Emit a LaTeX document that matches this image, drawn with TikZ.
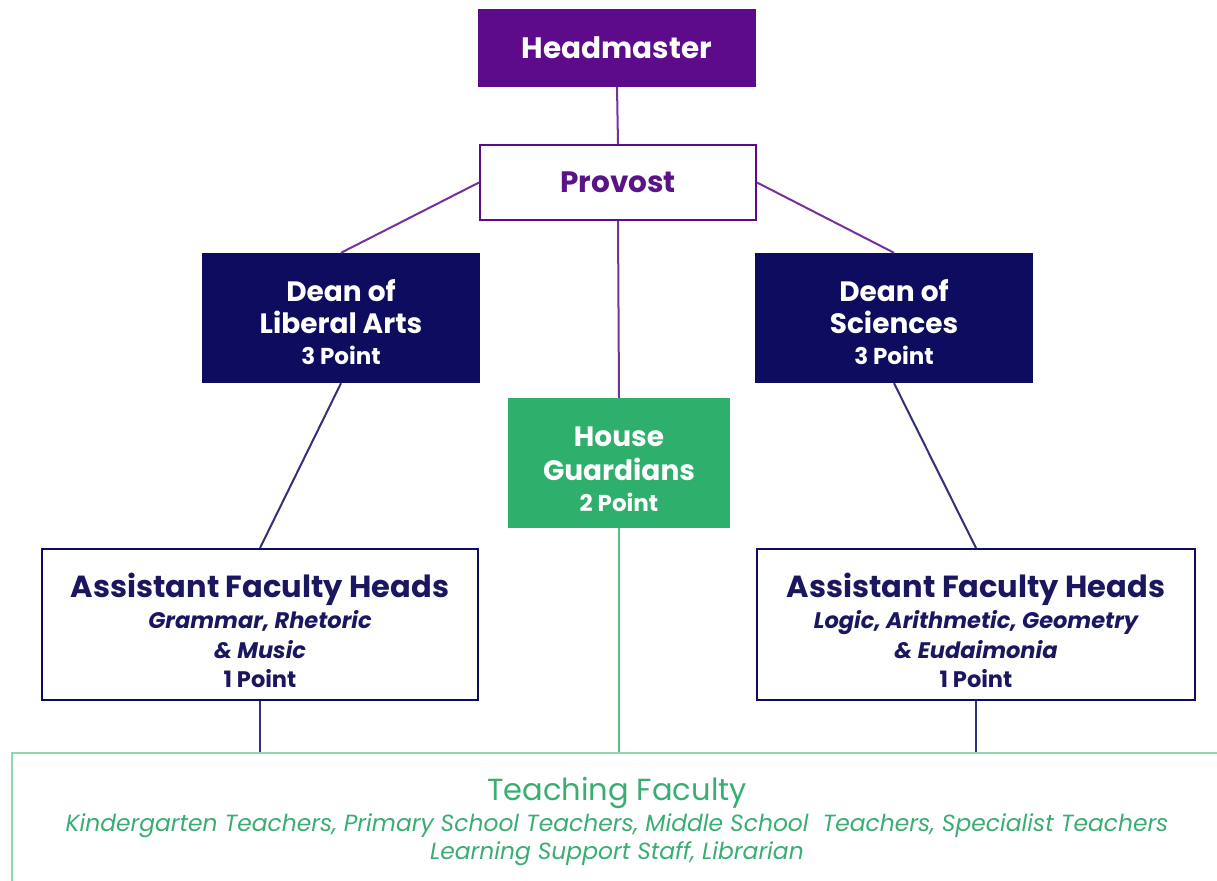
\documentclass[tikz,border=0pt]{standalone}
\usepackage{fontspec}
\setmainfont{Poppins}
\definecolor{hmpurple}{HTML}{5E0B8B}
\definecolor{provtext}{HTML}{5A1487}
\definecolor{navy}{HTML}{0E0C5E}
\definecolor{navytext}{HTML}{1A1660}
\definecolor{hgreen}{HTML}{2EAF6C}
\definecolor{tfborder}{HTML}{8FD7B4}
\definecolor{tftext}{HTML}{3AAE72}
\tikzset{
  box/.style={rectangle, inner sep=0pt, align=center, font=\bfseries},
  lbl/.style={align=center, inner sep=0pt},
  purpleline/.style={draw=hmpurple!85, line width=2pt},
  navyline/.style={draw=navy!85, line width=2pt},
  greenline/.style={draw=hgreen!80, line width=2pt},
}
\newcommand{\ptsmall}{\fontsize{23}{30}\selectfont}
\newcommand{\subsz}{\fontsize{22.5}{30}\selectfont}
\begin{document}
\begin{tikzpicture}[x=1pt,y=-1pt]
\useasboundingbox (0,0) rectangle (1217,880);
% boxes
\node[box, fill=hmpurple, text=white, minimum width=278pt, minimum height=78pt, font=\bfseries\fontsize{29.5}{34}\selectfont] (hm) at (617,48) {Headmaster};
\node[box, draw=hmpurple, line width=2pt, fill=white, text=provtext, minimum width=276pt, minimum height=75pt, font=\bfseries\fontsize{29.5}{34}\selectfont] (prov) at (618,182.5) {Provost};
\node[box, fill=navy, minimum width=278pt, minimum height=130pt,
  label={[lbl, text=white, yshift=-4pt, font=\bfseries\fontsize{28}{32}\selectfont]center:{Dean of\\Liberal Arts\\[-1pt]{\ptsmall 3 Point}}}] (dla) at (341,318) {};
\node[box, fill=navy, minimum width=278pt, minimum height=130pt,
  label={[lbl, text=white, yshift=-4pt, font=\bfseries\fontsize{28}{32}\selectfont]center:{Dean of\\Sciences\\[-1pt]{\ptsmall 3 Point}}}] (dsc) at (894,318) {};
\node[box, fill=hgreen, minimum width=222pt, minimum height=130pt,
  label={[lbl, text=white, yshift=-6pt, font=\bfseries\fontsize{28}{34}\selectfont]center:{House\\Guardians\\[-3pt]{\ptsmall 2 Point}}}] (hg) at (619,463) {};
\node[box, draw=navy, line width=2pt, fill=white, minimum width=436pt, minimum height=151pt,
  label={[lbl, text=navytext, yshift=-6pt, font=\bfseries\fontsize{30.5}{30}\selectfont]center:{Assistant Faculty Heads\\[1pt]{\subsz\itshape Grammar, Rhetoric}\\{\subsz\itshape \& Music}\\[-1pt]{\subsz 1 Point}}}] (afl) at (260,624.5) {};
\node[box, draw=navy, line width=2pt, fill=white, minimum width=438pt, minimum height=151pt,
  label={[lbl, text=navytext, yshift=-6pt, font=\bfseries\fontsize{30.5}{30}\selectfont]center:{Assistant Faculty Heads\\[1pt]{\subsz\itshape Logic, Arithmetic, Geometry}\\{\subsz\itshape \& Eudaimonia}\\[-1pt]{\subsz 1 Point}}}] (afr) at (976,624.5) {};
\node[box, draw=tfborder, line width=2pt, fill=white, minimum width=1218pt, minimum height=148pt] (tf) at (621,827) {};
\node[lbl, text=tftext, font=\fontsize{30.5}{31}\selectfont] (tft) at (617,822) {Teaching Faculty\\{\fontsize{23.4}{27}\selectfont\itshape Kindergarten Teachers, Primary School Teachers, Middle School\ \ Teachers, Specialist Teachers}\\[-3pt]{\fontsize{23.4}{27}\selectfont\itshape Learning Support Staff, Librarian}};
% connectors
\draw[purpleline] (hm.south) -- (prov.north);
\draw[purpleline] (prov.west) -- (dla.north);
\draw[purpleline] (prov.east) -- (dsc.north);
\draw[purpleline] (prov.south) -- (hg.north);
\draw[navyline] (dla.south) -- (afl.north);
\draw[navyline] (dsc.south) -- (afr.north);
\draw[navyline] (afl.south) -- (afl.south |- tf.north);
\draw[navyline] (afr.south) -- (afr.south |- tf.north);
\draw[greenline] (hg.south) -- (hg.south |- tf.north);
\end{tikzpicture}
\end{document}
